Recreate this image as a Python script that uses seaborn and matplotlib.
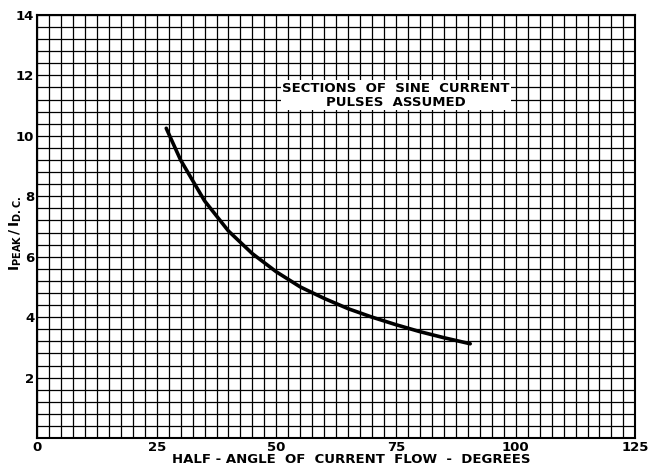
import numpy as np
import pandas as pd
import matplotlib
matplotlib.use("Agg")
import matplotlib.pyplot as plt
import seaborn as sns

# Half-angle of conduction (degrees) and peak-to-average current ratio
half_angle = [27, 30, 35, 40, 45, 50, 55, 60, 65, 70, 75, 80, 85, 90.5]
peak_ratio = [10.25, 9.2, 7.85, 6.85, 6.1, 5.5, 5.0, 4.62, 4.28, 4.0, 3.75, 3.52, 3.32, 3.12]

x_ticks = [0, 25, 50, 75, 100, 125]
y_ticks = [2, 4, 6, 8, 10, 12, 14]

sns.set_style("white")
plt.rcParams["font.family"] = ["DejaVu Sans"]
plt.rcParams.update({"text.color": "black", "axes.labelcolor": "black",
                     "xtick.color": "black", "ytick.color": "black"})

df = pd.DataFrame({"angle": half_angle, "ratio": peak_ratio})

fig = plt.figure(figsize=(6.49, 4.67), dpi=100)
ax = fig.add_axes([0.057, 0.062, 0.922, 0.906])

# fine graph-paper ruling
for gx in np.arange(0, 125.01, 2.5):
    ax.axvline(gx, color="black", lw=0.9, zorder=1)
for gy in np.arange(0, 14.01, 0.4):
    ax.axhline(gy, color="black", lw=0.9, zorder=1)

sns.lineplot(data=df, x="angle", y="ratio", ax=ax, color="black", lw=2.6, zorder=3)

ax.set_xlim(0, 125)
ax.set_ylim(0, 14)
ax.set_xticks(x_ticks)
ax.set_yticks(y_ticks)
ax.set_xticklabels([str(t) for t in x_ticks], fontweight="bold", fontsize=9.5)
ax.set_yticklabels([str(t) for t in y_ticks], fontweight="bold", fontsize=9.5)
ax.tick_params(length=0, pad=2, colors="black")
ax.set_xlabel("HALF - ANGLE  OF  CURRENT  FLOW  -  DEGREES", fontweight="bold",
              fontsize=9.5, labelpad=0, color="black")
ax.xaxis.set_label_coords(0.525, -0.035, transform=ax.transAxes)
ax.xaxis.label.set_va("top")
ax.set_ylabel("")
fig.text(0.025, 0.5, r"$\mathbf{I_{PEAK}\,/\,I_{D.C.}}$", rotation=90,
         ha="center", va="center", fontsize=10, color="black")

for s in ax.spines.values():
    s.set_color("black")
    s.set_linewidth(1.5)

ax.text(75.0, 11.34, "SECTIONS  OF  SINE  CURRENT\nPULSES  ASSUMED", ha="center",
        va="center", fontsize=9.5, fontweight="bold", linespacing=1.1, zorder=4,
        color="black", bbox=dict(facecolor="white", edgecolor="none", pad=1.0))

fig.savefig("out.png", dpi=100)
